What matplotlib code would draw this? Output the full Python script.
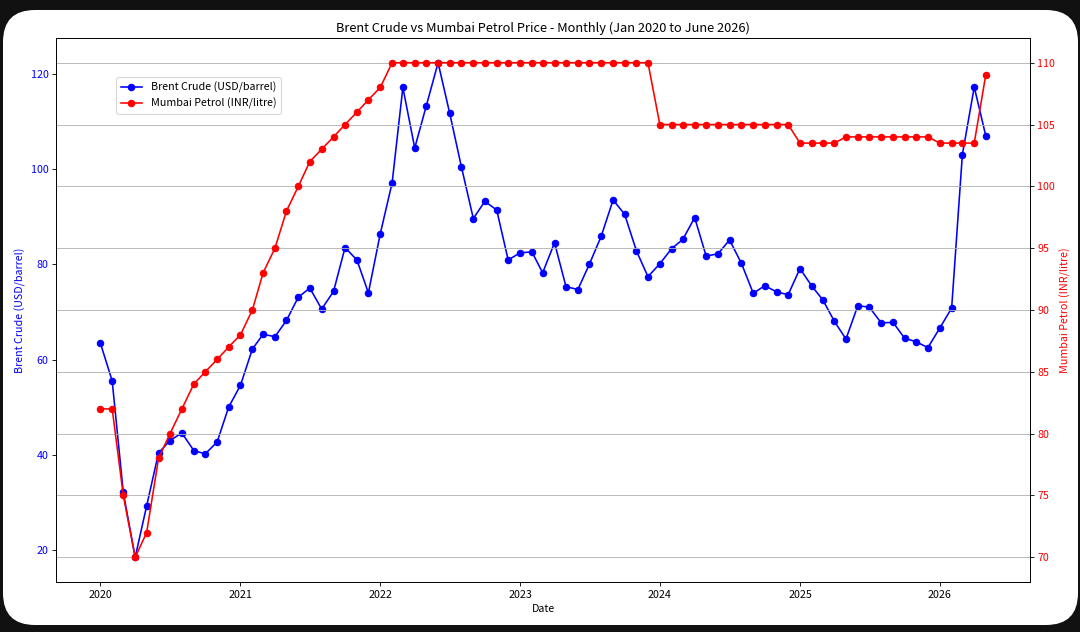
import matplotlib
matplotlib.use("Agg")
import matplotlib.pyplot as plt
import pandas as pd
from matplotlib.patches import FancyBboxPatch

plt.rcParams['font.family'] = ['Noto Sans CJK SC', 'DejaVu Sans']

# monthly data, Jan 2020 - May 2026
dates = pd.date_range('2020-01-01', periods=77, freq='MS')

brent = [63.5, 55.5, 32.1, 18.5, 29.3, 40.4, 43.0, 44.6, 40.9, 40.2, 42.7, 50.0,
         54.6, 62.2, 65.3, 64.8, 68.2, 73.1, 75.0, 70.6, 74.3, 83.5, 80.9, 74.0,
         86.4, 97.1, 117.1, 104.4, 113.2, 122.3, 111.8, 100.4, 89.6, 93.2, 91.4, 80.9,
         82.4, 82.6, 78.2, 84.5, 75.3, 74.7, 80.0, 85.9, 93.5, 90.5, 82.8, 77.4,
         80.1, 83.3, 85.2, 89.8, 81.7, 82.2, 85.1, 80.2, 73.9, 75.5, 74.2, 73.6,
         79.1, 75.4, 72.6, 68.0, 64.3, 71.3, 71.0, 67.7, 67.8, 64.5, 63.7, 62.5,
         66.6, 70.8, 103.0, 117.2, 107.0]

petrol = [82, 82, 75, 70, 72, 78, 80, 82, 84, 85, 86, 87,
          88, 90, 93, 95, 98, 100, 102, 103, 104, 105, 106, 107,
          108, 110, 110, 110, 110, 110, 110, 110, 110, 110, 110, 110,
          110, 110, 110, 110, 110, 110, 110, 110, 110, 110, 110, 110,
          105, 105, 105, 105, 105, 105, 105, 105, 105, 105, 105, 105,
          103.5, 103.5, 103.5, 103.5, 104, 104, 104, 104, 104, 104, 104, 104,
          103.5, 103.5, 103.5, 103.5, 109]

# the chart was made 14 inches wide and shown at 1080 px
DPI = 1080 / 14
fig = plt.figure(figsize=(14, 632 / DPI), dpi=DPI, facecolor='#111111')
# white rounded card of the screenshot
card = FancyBboxPatch((3, 7), 1075, 615, boxstyle='round,pad=0,rounding_size=32',
                      transform=None, facecolor='white', edgecolor='none', zorder=-10)
fig.patches.append(card)

ax1 = fig.add_axes([0.0519, 0.0791, 0.9018, 0.8608])
ax1.set_facecolor('white')

l1, = ax1.plot(dates, brent, color='blue', marker='o', label='Brent Crude (USD/barrel)')
ax1.set_xlabel('Date')
ax1.set_ylabel('Brent Crude (USD/barrel)', color='blue')
ax1.tick_params(axis='y', labelcolor='blue')

ax2 = ax1.twinx()
l2, = ax2.plot(dates, petrol, color='red', marker='o', label='Mumbai Petrol (INR/litre)')
ax2.set_ylabel('Mumbai Petrol (INR/litre)', color='red')
ax2.tick_params(axis='y', labelcolor='red')
ax2.grid(True)

ax1.set_title('Brent Crude vs Mumbai Petrol Price - Monthly (Jan 2020 to June 2026)')
ax1.legend([l1, l2], [l1.get_label(), l2.get_label()], loc='upper left',
           bbox_to_anchor=(0.062, 0.928), borderaxespad=0)

fig.savefig('out.png', dpi=DPI, facecolor=fig.get_facecolor())
